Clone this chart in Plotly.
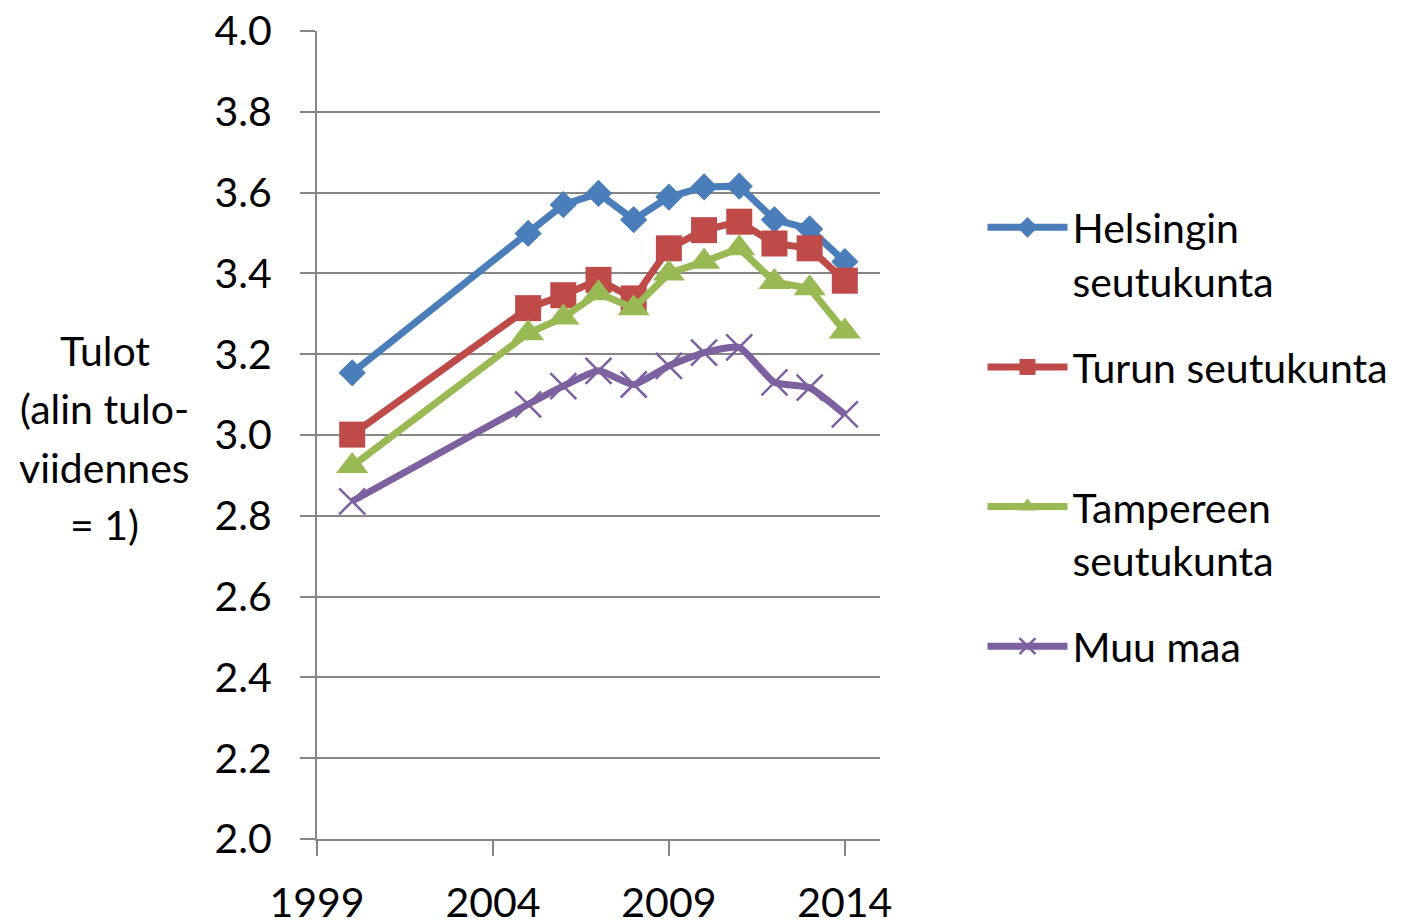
import plotly.graph_objects as go

years = [2000, 2005, 2006, 2007, 2008, 2009, 2010, 2011, 2012, 2013, 2014]
helsinki = [3.154, 3.499, 3.570, 3.598, 3.533, 3.589, 3.614, 3.616, 3.533, 3.510, 3.429]
turku = [3.001, 3.314, 3.346, 3.384, 3.338, 3.462, 3.507, 3.528, 3.474, 3.462, 3.382]
tampere = [2.923, 3.252, 3.291, 3.351, 3.314, 3.400, 3.429, 3.462, 3.379, 3.363, 3.256]
muu_maa = [2.836, 3.076, 3.121, 3.159, 3.125, 3.171, 3.204, 3.217, 3.130, 3.117, 3.051]

names = ["Helsingin<br>seutukunta", "Turun seutukunta<br> ", "Tampereen<br>seutukunta", "Muu maa"]
colors = ["#4A7EBB", "#BE4B48", "#98B954", "#7D60A0"]
symbols = ["diamond", "square", "triangle-up", "x-thin"]
msizes = [21, 26, 28, 26]
series = [helsinki, turku, tampere, muu_maa]

y_title_lines = ["Tulot", "(alin tulo-", "viidennes", "= 1)"]
x_ticks = [1999, 2004, 2009, 2014]

FONT = "Lato, 'Open Sans', sans-serif"
FS = 41
GRID = "#868686"

fig = go.Figure()
for i, (nm, vals) in enumerate(zip(names, series)):
    if symbols[i] == "x-thin":
        marker = dict(symbol="x-thin", size=msizes[i], line=dict(color=colors[i], width=2.5), color=colors[i])
        line = dict(color=colors[i], width=7, shape="spline", smoothing=0.5)
    else:
        marker = dict(symbol=symbols[i], size=msizes[i], color=colors[i], line=dict(width=0))
        line = dict(color=colors[i], width=7)
    fig.add_trace(go.Scatter(
        x=years, y=vals, name=nm, mode="lines+markers",
        line=line, marker=marker, legendgroup=f"g{i}",
        hoverinfo="skip",
    ))

# page body has an 8px margin, so the figure is offset by 8px
fig.update_layout(
    width=1406, height=913,
    margin=dict(l=309, r=534, t=23, b=82, autoexpand=False),
    paper_bgcolor="white", plot_bgcolor="white",
    font=dict(family=FONT, size=FS, color="black"),
    showlegend=True,
    legend=dict(
        x=1.182, y=0.798, xanchor="left", yanchor="top",
        font=dict(family=FONT, size=FS, color="black"),
        bgcolor="rgba(0,0,0,0)", valign="top",
        tracegroupgap=30, itemwidth=80,
        traceorder="grouped",
    ),
)
fig.update_xaxes(
    range=[1999, 2015], tickvals=x_ticks, ticktext=[str(v) for v in x_ticks],
    showgrid=False, zeroline=False, automargin=False,
    showline=True, linecolor=GRID, linewidth=2,
    ticks="outside", ticklen=15, tickwidth=2, tickcolor=GRID,
    tickfont=dict(family=FONT, size=FS, color="black"),
    ticklabelstandoff=12, ticklabeloverflow="allow",
)
fig.update_yaxes(
    range=[2, 4], dtick=0.2, tick0=2, tickformat=".1f",
    showgrid=True, gridcolor=GRID, gridwidth=2, zeroline=False, automargin=False,
    showline=True, linecolor=GRID, linewidth=2,
    ticks="outside", ticklen=15, tickwidth=2, tickcolor=GRID,
    tickfont=dict(family=FONT, size=FS, color="black"),
    ticklabelstandoff=20, ticklabeloverflow="allow",
)

ys = [0.605, 0.533, 0.460, 0.389]
for txt, yy in zip(y_title_lines, ys):
    fig.add_annotation(
        text=txt, xref="paper", yref="paper", x=-0.377, y=yy,
        xanchor="center", yanchor="middle", showarrow=False,
        font=dict(family=FONT, size=FS, color="black"),
    )

fig.write_html("out.html")
